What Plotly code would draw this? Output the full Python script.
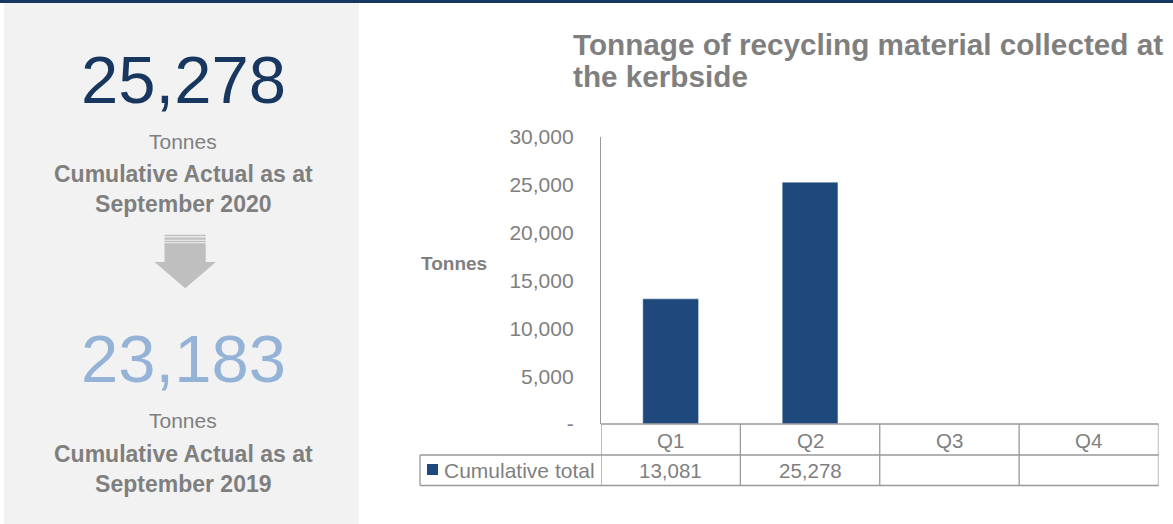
import plotly.graph_objects as go

W, H = 1173, 524

# ---- data ----
quarters = ["Q1", "Q2", "Q3", "Q4"]
cumulative_total = [13081, 25278, None, None]
y_tick_vals = [0, 5000, 10000, 15000, 20000, 25000, 30000]
y_tick_text = ["-", "5,000", "10,000", "15,000", "20,000", "25,000", "30,000"]
current_total = 25278
previous_total = 23183
current_label = "Cumulative Actual as at<br>September 2020"
previous_label = "Cumulative Actual as at<br>September 2019"
unit_label = "Tonnes"
series_name = "Cumulative total"
title_lines = ["Tonnage of recycling material collected at", "the kerbside"]

NAVY = "#17375E"
BAR = "#1F497D"
LIGHT = "#95B3D7"
GREY_TXT = "#7F7F7F"
GRID = "#999999"
FONT = "Liberation Sans, Arial, sans-serif"


def X(px):
    return px / W


def Y(py):
    return 1 - py / H


fig = go.Figure()
fig.add_trace(go.Bar(
    x=quarters, y=cumulative_total, marker_color=BAR, width=0.4,
    name=series_name, showlegend=False,
))

shapes = []
# top navy band
shapes.append(dict(type="rect", xref="paper", yref="paper", x0=0, x1=1, y0=Y(3), y1=1,
                   fillcolor=NAVY, line_width=0, layer="below"))
# left grey panel
shapes.append(dict(type="rect", xref="paper", yref="paper", x0=X(4), x1=X(359), y0=0, y1=Y(3),
                   fillcolor="#F2F2F2", line_width=0, layer="below"))
# arrow stripes
for (a, b) in [(234.8, 236.3), (237.6, 239.8), (240.8, 242.2)]:
    shapes.append(dict(type="rect", xref="paper", yref="paper", x0=X(164.5), x1=X(205.7), y0=Y(b), y1=Y(a),
                       fillcolor="#BFBFBF", line_width=0))
# arrow body + head
pts = [(164.5, 243.2), (205.7, 243.2), (205.7, 262), (216, 262), (185.2, 288.3), (154.5, 262), (164.5, 262)]
path = "M " + " L ".join(f"{X(px)},{Y(py)}" for px, py in pts) + " Z"
shapes.append(dict(type="path", xref="paper", yref="paper", path=path,
                   fillcolor="#BFBFBF", line_width=0))

# data table grid
ln = dict(color=GRID, width=1.3)
for py, x0 in [(424, 601), (455, 420), (485.5, 420)]:
    shapes.append(dict(type="line", xref="paper", yref="paper", x0=X(x0), x1=X(1158.5),
                       y0=Y(py), y1=Y(py), line=ln))
shapes.append(dict(type="line", xref="paper", yref="paper", x0=X(420), x1=X(420),
                   y0=Y(455), y1=Y(485.5), line=ln))
for i in range(len(quarters) + 1):
    shapes.append(dict(type="line", xref="x", yref="paper", x0=i - 0.5, x1=i - 0.5,
                       y0=Y(424), y1=Y(485.5), line=ln))
# legend key
shapes.append(dict(type="rect", xref="paper", yref="paper", x0=X(427), x1=X(438), y0=Y(475), y1=Y(464),
                   fillcolor=BAR, line_width=0))

ann = []
# left panel texts
ann.append(dict(x=X(183), y=Y(79.5), text=f"{current_total:,}", font=dict(size=67, color=NAVY)))
ann.append(dict(x=X(183), y=Y(141.5), text=unit_label, font=dict(size=21, color=GREY_TXT)))
ann.append(dict(x=X(183), y=Y(188.5), text=f"<b>{current_label}</b>", font=dict(size=23, color=GREY_TXT)))
ann.append(dict(x=X(183), y=Y(358.5), text=f"{previous_total:,}", font=dict(size=67, color=LIGHT)))
ann.append(dict(x=X(183), y=Y(420.5), text=unit_label, font=dict(size=21, color=GREY_TXT)))
ann.append(dict(x=X(183), y=Y(468.5), text=f"<b>{previous_label}</b>", font=dict(size=23, color=GREY_TXT)))
for a in ann:
    a.update(xref="paper", yref="paper", showarrow=False, xanchor="center", yanchor="middle")

# title
for i, t in enumerate(title_lines):
    ann.append(dict(x=X(571), y=Y(44 + 32 * i), xref="paper", yref="paper", text=f"<b>{t}</b>",
                    showarrow=False, xanchor="left", yanchor="middle",
                    font=dict(size=29.7, color=GREY_TXT)))
# axis title
ann.append(dict(x=X(419), y=Y(263), xref="paper", yref="paper", text=f"<b>{unit_label}</b>",
                showarrow=False, xanchor="left", yanchor="middle", font=dict(size=19, color=GREY_TXT)))
# table texts
for q, v in zip(quarters, cumulative_total):
    ann.append(dict(x=q, xref="x", y=Y(440), yref="paper", text=q, showarrow=False,
                    xanchor="center", yanchor="middle", font=dict(size=20.5, color=GREY_TXT)))
    if v is not None:
        ann.append(dict(x=q, xref="x", y=Y(470.5), yref="paper", text=f"{v:,}", showarrow=False,
                        xanchor="center", yanchor="middle", font=dict(size=20.5, color=GREY_TXT)))
ann.append(dict(x=X(442), y=Y(470.5), xref="paper", yref="paper", text=series_name, showarrow=False,
                xanchor="left", yanchor="middle", font=dict(size=21, color=GREY_TXT)))

fig.update_layout(
    width=W, height=H, margin=dict(l=0, r=0, t=0, b=0, pad=0),
    paper_bgcolor="white", plot_bgcolor="white",
    font=dict(family=FONT, color=GREY_TXT),
    shapes=shapes, annotations=ann, showlegend=False,
    xaxis=dict(domain=[X(601), X(1158.5)], range=[-0.5, 3.5], showticklabels=False, automargin=False,
               showgrid=False, zeroline=False, showline=False, fixedrange=True),
    yaxis=dict(domain=[Y(424), Y(137)], range=[0, 30000], tickvals=y_tick_vals, ticktext=y_tick_text,
               automargin=False,
               showgrid=False, zeroline=False, showline=True, linecolor=GRID, linewidth=1.3,
               ticks="", ticklabelstandoff=22, tickfont=dict(size=21, color=GREY_TXT), fixedrange=True),
)

fig.write_html("out.html")
